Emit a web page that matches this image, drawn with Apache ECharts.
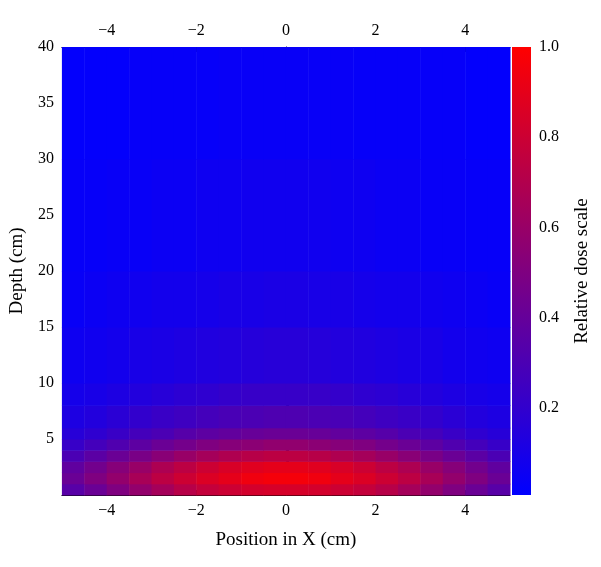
<!DOCTYPE html>
<html><head><meta charset="utf-8">
<script src="https://cdn.jsdelivr.net/npm/echarts@6/dist/echarts.min.js"></script>
<style>html,body{margin:0;background:#fff}#c{width:601px;height:567px}</style>
</head><body><div id="c"></div>
<script>
// x bin centres (cm), bin width 0.5
var xCenters = [-4.75,-4.25,-3.75,-3.25,-2.75,-2.25,-1.75,-1.25,-0.75,-0.25,0.25,0.75,1.25,1.75,2.25,2.75,3.25,3.75,4.25,4.75];
// depth bins (cm)
var depthLo = [0,1,2,3,4,5,6,8,10,15,20,30];
var depthHi = [1,2,3,4,5,6,8,10,15,20,30,40];
// relative dose, one row per depth bin
var dose = [
  [.35,.42,.5,.58,.65,.72,.77,.8,.83,.84,.84,.83,.8,.77,.72,.65,.58,.5,.42,.35],
  [.42,.5,.58,.66,.74,.8,.86,.9,.94,.96,.96,.94,.9,.86,.8,.74,.66,.58,.5,.42],
  [.38,.45,.53,.6,.68,.74,.8,.85,.88,.9,.9,.88,.85,.8,.74,.68,.6,.53,.45,.38],
  [.3,.36,.42,.48,.54,.6,.65,.69,.72,.74,.74,.72,.69,.65,.6,.54,.48,.42,.36,.3],
  [.22,.27,.32,.37,.42,.46,.5,.53,.55,.57,.57,.55,.53,.5,.46,.42,.37,.32,.27,.22],
  [.16,.19,.23,.27,.3,.34,.37,.39,.41,.42,.42,.41,.39,.37,.34,.3,.27,.23,.19,.16],
  [.12,.14,.17,.2,.23,.25,.27,.29,.3,.31,.31,.3,.29,.27,.25,.23,.2,.17,.14,.12],
  [.09,.1,.12,.14,.16,.18,.19,.21,.22,.22,.22,.22,.21,.19,.18,.16,.14,.12,.1,.09],
  [.06,.07,.08,.1,.11,.12,.13,.14,.15,.16,.16,.15,.14,.13,.12,.11,.1,.08,.07,.06],
  [.04,.05,.06,.07,.08,.08,.09,.1,.1,.11,.11,.1,.1,.09,.08,.08,.07,.06,.05,.04],
  [.03,.03,.04,.04,.05,.05,.06,.06,.07,.07,.07,.07,.06,.06,.05,.05,.04,.04,.03,.03],
  [.02,.02,.02,.03,.03,.03,.03,.04,.04,.04,.04,.04,.04,.03,.03,.03,.03,.03,.02,.02]
];
var xTicks = [-4,-2,0,2,4];
var barTicks = [0.2,0.4,0.6,0.8,1.0];

var cells = [];
dose.forEach(function(row,i){
  row.forEach(function(v,j){ cells.push([xCenters[j]-0.25,xCenters[j]+0.25,depthLo[i],depthHi[i],v]); });
});
var font = 'Liberation Serif';
var lab = {fontFamily:font,fontSize:16,color:'#000'};
function minus(v){ return v<0?'\u2212'+(-v):String(v); }
function xAx(pos,extra){
  return Object.assign({gridIndex:0,type:'value',min:-5,max:5,position:pos,
    axisLabel:Object.assign({customValues:xTicks,formatter:minus},lab),
    axisLine:{lineStyle:{color:'#000'}},axisTick:{customValues:xTicks,inside:true,length:5},splitLine:{show:false}},extra||{});
}
var chart = echarts.init(document.getElementById('c'));
chart.setOption({
  animation:false,
  grid:[{left:58,top:47,width:452,height:448},{left:512,top:47,width:19,height:448}],
  visualMap:{type:'continuous',show:false,min:0.007,max:1,dimension:4,seriesIndex:0,
    inRange:{color:['#0000ff','#ff0000']}},
  xAxis:[
    xAx('bottom',{name:'Position in X (cm)',nameLocation:'middle',nameGap:36,nameTextStyle:{fontFamily:font,fontSize:19,color:'#000'}}),
    xAx('top'),
    {gridIndex:1,type:'value',show:false,min:0,max:1}
  ],
  yAxis:[
    {gridIndex:0,type:'value',min:0,max:40,interval:5,name:'Depth (cm)',nameLocation:'middle',nameGap:30,
     nameTextStyle:{fontFamily:font,fontSize:19,color:'#000'},
     axisLabel:Object.assign({formatter:function(v){return v===0?'':v;}},lab),
     axisLine:{show:true,lineStyle:{color:'#000'}},axisTick:{inside:true,length:5},minorTick:{show:true,length:3,splitNumber:5},splitLine:{show:false}},
    {gridIndex:1,type:'value',min:0.007,max:1,position:'right',name:'Relative dose scale',nameLocation:'middle',nameGap:42,
     nameTextStyle:{fontFamily:font,fontSize:19,color:'#000'},
     axisLabel:Object.assign({customValues:barTicks,formatter:function(v){return v.toFixed(1);}},lab),
     axisTick:{customValues:barTicks,length:5},axisLine:{show:false},splitLine:{show:false}}
  ],
  series:[
    {type:'custom',xAxisIndex:0,yAxisIndex:0,data:cells,encode:{x:[0,1],y:[2,3]},
     renderItem:function(params,api){
       var p0=api.coord([api.value(0),api.value(3)]),p1=api.coord([api.value(1),api.value(2)]);
       return {type:'rect',shape:{x:p0[0],y:p0[1],width:p1[0]-p0[0]+0.5,height:p1[1]-p0[1]+0.5},style:{fill:api.visual('color')}};
     }},
    {type:'custom',xAxisIndex:2,yAxisIndex:1,data:[[0]],silent:true,
     renderItem:function(params,api){
       var cs=params.coordSys;
       return {type:'rect',shape:{x:cs.x,y:cs.y,width:cs.width,height:cs.height},
         style:{fill:new echarts.graphic.LinearGradient(0,0,0,1,[{offset:0,color:'#ff0000'},{offset:1,color:'#0000ff'}])}};
     }}
  ]
});
</script></body></html>
